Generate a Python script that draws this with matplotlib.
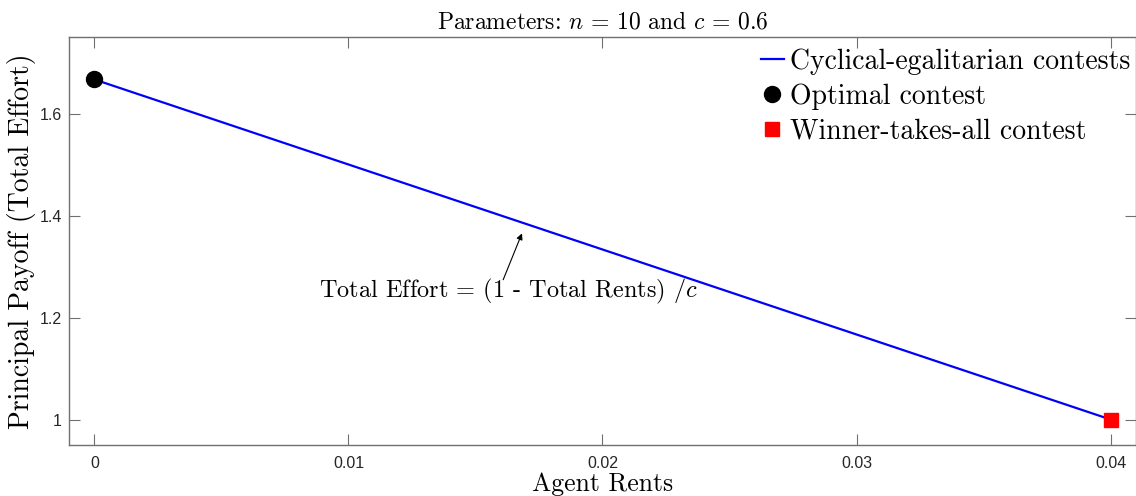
import matplotlib
matplotlib.use("Agg")
import matplotlib.pyplot as plt
import numpy as np

plt.rcParams['mathtext.fontset'] = 'cm'

n = 10
c = 0.6
agent_rents = [0.0, 0.04]
total_effort = [1.6667, 1.0]
optimal_x = [0.0]
optimal_y = [1.6667]
wta_x = [0.04]
wta_y = [1.0]
xticks = [0, 0.01, 0.02, 0.03, 0.04]
xticklabels = ['0', '0.01', '0.02', '0.03', '0.04']
yticks = [1.0, 1.2, 1.4, 1.6]
yticklabels = ['1', '1.2', '1.4', '1.6']

CM = 'cmr10'

fig = plt.figure(figsize=(11.36, 4.96), dpi=100)
ax = fig.add_axes([69/1136, 51/496, 1067/1136, 408/496])

ax.plot(agent_rents, total_effort, color='#0000ff', lw=1.6,
        label='Cyclical-egalitarian contests')
ax.plot(optimal_x, optimal_y, 'o', color='black', ms=11.5, ls='none',
        label='Optimal contest')
ax.plot(wta_x, wta_y, 's', color='#ff0000', ms=10, ls='none',
        label='Winner-takes-all contest')

ax.set_xlim(-0.001, 0.041)
ax.set_ylim(0.95, 1.75)
ax.set_xticks(xticks)
ax.set_xticklabels(xticklabels)
ax.set_yticks(yticks)
ax.set_yticklabels(yticklabels)
ax.tick_params(direction='in', length=8, width=0.8, color='#707070',
               labelcolor='#262626', labelsize=11.5, top=True, right=True)
ax.tick_params(axis='x', pad=8)
ax.tick_params(axis='y', pad=5)
for lab in ax.get_xticklabels() + ax.get_yticklabels():
    lab.set_fontfamily('Liberation Sans')
for sp in ax.spines.values():
    sp.set_color('#707070')
    sp.set_linewidth(1.0)

ax.set_xlabel('Agent Rents', fontsize=18.5, family=CM)
ax.xaxis.set_label_coords(0.5, -27/408, transform=ax.transAxes)
ax.set_ylabel('Principal Payoff (Total Effort)', fontsize=20, family=CM)
ax.yaxis.set_label_coords(-33/1067, 0.5, transform=ax.transAxes)
ax.set_title(r'Parameters: $n\,=\,10$ and $c\,=\,0.6$', fontsize=17, family=CM, pad=6)

ax.annotate('', xy=(0.01683, 1.365), xytext=(0.01609, 1.274),
            arrowprops=dict(arrowstyle='-|>', color='black', lw=0.8,
                            mutation_scale=9, shrinkA=0, shrinkB=0))
ax.text(0.01628, 1.251, r'Total Effort = (1 - Total Rents) /$c$',
        fontsize=17.5, family=CM, ha='center', va='center')

leg = ax.legend(loc='upper right', bbox_to_anchor=(1.005, 1.0), frameon=False,
                prop={'family': CM, 'size': 20}, handlelength=0.85, handletextpad=0.2,
                labelspacing=0.31, borderaxespad=0.0)

fig.savefig('out.png', dpi=100)
